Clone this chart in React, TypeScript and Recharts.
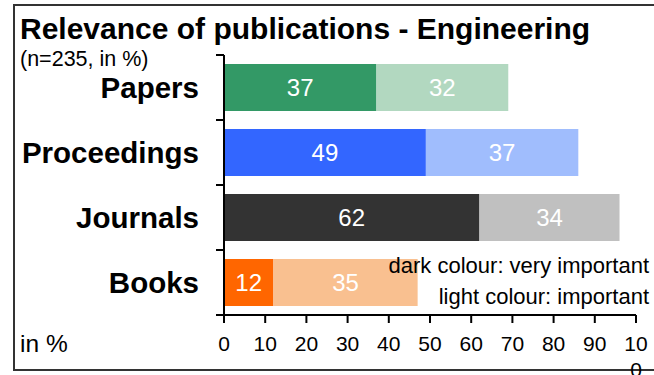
import React from 'react';
import { BarChart, Bar, XAxis, YAxis, Cell, LabelList } from 'recharts';

const categories = ['Papers', 'Proceedings', 'Journals', 'Books'];
const veryImportant = [37, 49, 62, 12];
const important = [32, 37, 34, 35];
const xTicks = [0, 10, 20, 30, 40, 50, 60, 70, 80, 90, 100];

const DARK_COLORS = ['#339966', '#3366ff', '#333333', '#ff6600'];
const LIGHT_COLORS = ['#b2d8c0', '#a0bdfd', '#c0c0c0', '#f9c090'];

const FONT = '"Liberation Sans", Arial, sans-serif';
const WIDTH = 654;
const HEIGHT = 375;
const MARGIN = { top: 55, right: 18, bottom: 20, left: 0 };
const X_AXIS_HEIGHT = 40;
const PLOT_HEIGHT = HEIGHT - MARGIN.top - MARGIN.bottom - X_AXIS_HEIGHT;

const data = categories.map((name, i) => ({
  name,
  very: veryImportant[i],
  imp: important[i],
}));

// category label plus a small tick at the top edge of each band (and bottom of the last)
function CategoryTick(props: any) {
  const { x, y, payload, index, visibleTicksCount } = props;
  const half = PLOT_HEIGHT / categories.length / 2;
  const isLast = index === visibleTicksCount - 1;
  return (
    <g>
      <line x1={x - 8} x2={x} y1={y - half} y2={y - half} stroke="#000" strokeWidth={2} />
      {isLast && (
        <line x1={x - 8} x2={x} y1={y + half} y2={y + half} stroke="#000" strokeWidth={2} />
      )}
      <text
        x={x - 25}
        y={y}
        dy="0.36em"
        textAnchor="end"
        fontFamily={FONT}
        fontWeight="bold"
        fontSize={29.5}
        fill="#000"
      >
        {payload.value}
      </text>
    </g>
  );
}

// the last tick label wraps onto a second line
function ValueTick(props: any) {
  const { x, y, payload } = props;
  const label = String(payload.value);
  const wrap = label.length > 2;
  return (
    <text x={x} y={y} dy={26} textAnchor="middle" fontFamily={FONT} fontSize={21} fill="#000">
      <tspan x={x}>{wrap ? label.slice(0, 2) : label}</tspan>
      {wrap && (
        <tspan x={x} dy="1.25em">
          {label.slice(2)}
        </tspan>
      )}
    </text>
  );
}

const overlayText: React.CSSProperties = {
  position: 'absolute',
  fontFamily: FONT,
  color: '#000',
  whiteSpace: 'nowrap',
  lineHeight: 1,
};

export default function App() {
  return (
    <div
      style={{
        position: 'absolute',
        left: 0,
        top: 0,
        width: WIDTH,
        height: HEIGHT,
        overflow: 'hidden',
        background: '#fff',
      }}
    >
      <div
        style={{
          position: 'absolute',
          left: 13,
          top: 4,
          width: 720,
          height: 363,
          border: '2px solid #333',
        }}
      />
      <div style={{ position: 'absolute', left: 0, top: 0 }}>
        <BarChart width={WIDTH} height={HEIGHT} data={data} layout="vertical" margin={MARGIN}>
          <XAxis
            type="number"
            domain={[0, 100]}
            ticks={xTicks}
            height={X_AXIS_HEIGHT}
            axisLine={{ stroke: '#000', strokeWidth: 2 }}
            tickLine={{ stroke: '#000', strokeWidth: 2 }}
            tickSize={8}
            tick={<ValueTick />}
            interval={0}
          />
          <YAxis
            type="category"
            dataKey="name"
            width={224}
            axisLine={{ stroke: '#000', strokeWidth: 2 }}
            tickLine={false}
            tickSize={0}
            tickMargin={0}
            tick={<CategoryTick />}
            interval={0}
          />
          <Bar dataKey="very" stackId="a" barSize={47} isAnimationActive={false}>
            {data.map((_, i) => (
              <Cell key={`very-${i}`} fill={DARK_COLORS[i]} />
            ))}
            <LabelList
              dataKey="very"
              position="center"
              fill="#fff"
              fontSize={24}
              fontFamily={FONT}
            />
          </Bar>
          <Bar dataKey="imp" stackId="a" barSize={47} isAnimationActive={false}>
            {data.map((_, i) => (
              <Cell key={`imp-${i}`} fill={LIGHT_COLORS[i]} />
            ))}
            <LabelList
              dataKey="imp"
              position="center"
              fill="#fff"
              fontSize={24}
              fontFamily={FONT}
            />
          </Bar>
        </BarChart>
      </div>
      <div style={{ ...overlayText, left: 20, top: 14, fontSize: 30, fontWeight: 'bold' }}>
        Relevance of publications - Engineering
      </div>
      <div style={{ ...overlayText, left: 20, top: 49, fontSize: 21.5 }}>(n=235, in %)</div>
      <div style={{ ...overlayText, left: 20, top: 332, fontSize: 24.5 }}>in %</div>
      <div style={{ ...overlayText, right: 5, top: 255, fontSize: 22, textAlign: 'right' }}>
        dark colour: very important
      </div>
      <div style={{ ...overlayText, right: 5, top: 286, fontSize: 22, textAlign: 'right' }}>
        light colour: important
      </div>
    </div>
  );
}
